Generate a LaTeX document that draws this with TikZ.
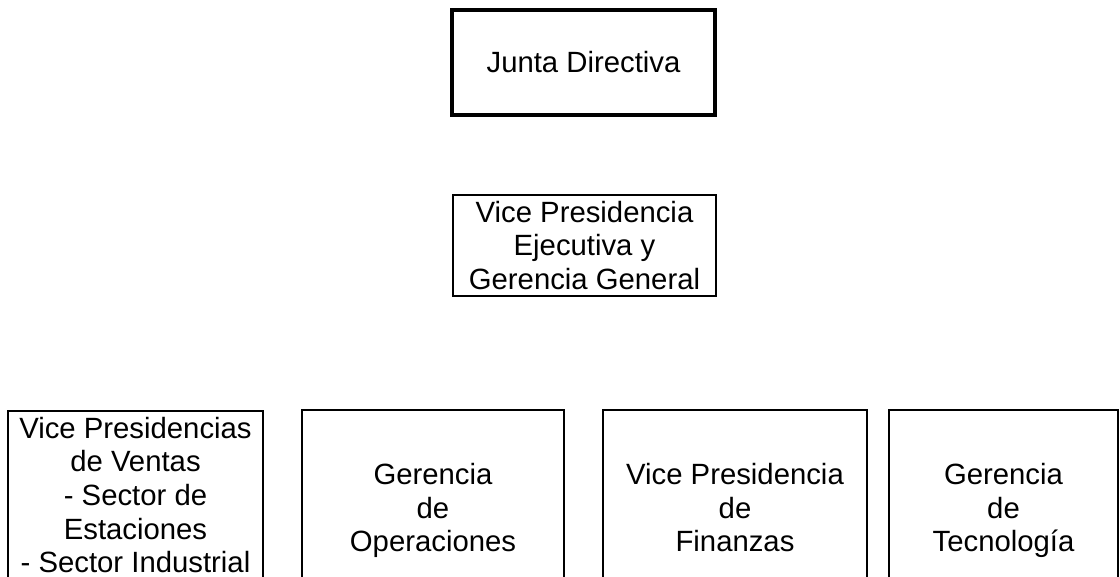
\documentclass[tikz,border=0pt]{standalone}
\usepackage{fontspec}
\setmainfont{Liberation Sans}

\begin{document}
\begin{tikzpicture}[x=1pt, y=-1pt,
    orgbox/.style={draw, black, line width=2pt, align=center, inner sep=0pt,
        font=\fontsize{29.3}{33.7}\selectfont},
    lowbox/.style={orgbox, text depth=7pt, minimum height=202pt}]
    \clip (0,0) rectangle (1120,577);
    \fill[white] (0,0) rectangle (1120,577);

    \node[orgbox, line width=4pt, minimum width=263pt, minimum height=105pt] at (583.5,62.5) (Junta) {Junta Directiva};
    \node[orgbox, minimum width=263pt, minimum height=101pt] at (584.5,245.5) (VicePresEjec) {Vice Presidencia\\Ejecutiva y\\Gerencia General};

    \node[orgbox, minimum width=255pt, minimum height=168pt] at (135.5,495) (Ventas) {Vice Presidencias\\de Ventas\\- Sector de\\Estaciones\\- Sector Industrial};
    \node[lowbox, minimum width=262pt] at (433,511) (Operaciones) {Gerencia\\de\\Operaciones};
    \node[lowbox, minimum width=264pt] at (735,511) (Finanzas) {Vice Presidencia\\de\\Finanzas};
    \node[lowbox, minimum width=229pt] at (1003.5,511) (Tecnologia) {Gerencia\\de\\Tecnología};
\end{tikzpicture}
\end{document}
